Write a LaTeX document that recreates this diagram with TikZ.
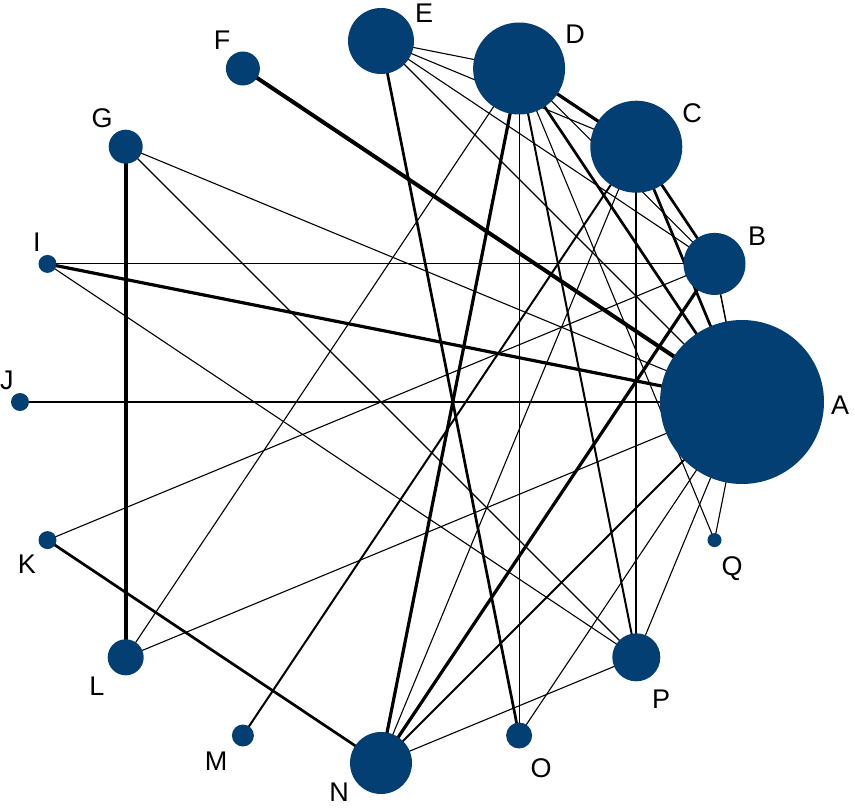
\documentclass[tikz,border=0pt]{standalone}
\usepackage{fontspec}
\setmainfont{Liberation Sans}
\usetikzlibrary{backgrounds}
\definecolor{nodeblue}{RGB}{3,63,114}
\begin{document}
\begin{tikzpicture}[x=1pt,y=-1pt,
  vert/.style={circle,fill=nodeblue,draw=none,inner sep=0pt,minimum size=#1},
  lab/.style={font=\fontsize{27}{27}\selectfont,inner sep=0pt,text=black},
  ethin/.style={line width=1.1pt},
  emid/.style={line width=2pt},
  ethick/.style={line width=2.7pt},
  ebold/.style={line width=3.2pt},
  eheavy/.style={line width=4pt}]
\useasboundingbox (0,0) rectangle (854,808);
% nodes
\node[vert=164pt] (A) at (742,402) {};
\node[vert=62pt]  (B) at (714.5,263.9) {};
\node[vert=92pt]  (C) at (636.3,146.7) {};
\node[vert=92pt]  (D) at (519.1,68.5) {};
\node[vert=66pt]  (E) at (381,41) {};
\node[vert=34pt]  (F) at (242.9,68.5) {};
\node[vert=34pt]  (G) at (125.7,146.7) {};
\node[vert=18pt]  (I) at (47.5,263.9) {};
\node[vert=18pt]  (J) at (20,402) {};
\node[vert=18pt]  (K) at (47.5,540.1) {};
\node[vert=36pt]  (L) at (125.7,657.3) {};
\node[vert=22pt]  (M) at (242.9,735.5) {};
\node[vert=62pt]  (N) at (381,763) {};
\node[vert=26pt]  (O) at (519.1,735.5) {};
\node[vert=48pt]  (P) at (636.3,657.3) {};
\node[vert=14pt]  (Q) at (714.5,540.1) {};
% labels
\node[lab] (lA) at (840,405) {A};
\node[lab] (lB) at (757,236) {B};
\node[lab] (lC) at (692,113) {C};
\node[lab] (lD) at (575,34) {D};
\node[lab] (lE) at (424,13) {E};
\node[lab] (lF) at (222,40) {F};
\node[lab] (lG) at (102,118) {G};
\node[lab] (lI) at (37,242) {I};
\node[lab] (lJ) at (7,380) {J};
\node[lab] (lK) at (27,564) {K};
\node[lab] (lL) at (97,686) {L};
\node[lab] (lM) at (216,761) {M};
\node[lab] (lN) at (339,792) {N};
\node[lab] (lO) at (541,768) {O};
\node[lab] (lP) at (661,699) {P};
\node[lab] (lQ) at (732,569) {Q};
% edges
\begin{pgfonlayer}{background}
\draw[ethin] (E.center) -- (D.center);
\draw[ethin] (E.center) -- (C.center);
\draw[ethin] (E.center) -- (B.center);
\draw[ethin] (E.center) -- (A.center);
\draw[ethick] (E.center) -- (O.center);
\draw[ebold] (D.center) -- (C.center);
\draw[ethin] (D.center) -- (B.center);
\draw[ethick] (D.center) -- (A.center);
\draw[ethin] (D.center) -- (Q.center);
\draw[emid] (D.center) -- (P.center);
\draw[ethin] (D.center) -- (O.center);
\draw[ebold] (D.center) -- (N.center);
\draw[ethin] (D.center) -- (L.center);
\draw[ethick] (C.center) -- (B.center);
\draw[ethick] (C.center) -- (A.center);
\draw[emid] (C.center) -- (P.center);
\draw[ethin] (C.center) -- (N.center);
\draw[emid] (C.center) -- (M.center);
\draw[line width=1.5pt] (B.center) -- (A.center);
\draw[ethin] (B.center) -- (I.center);
\draw[ethin] (B.center) -- (K.center);
\draw[ebold] (B.center) -- (N.center);
\draw[eheavy] (F.center) -- (A.center);
\draw[ethin] (G.center) -- (A.center);
\draw[ethin] (G.center) -- (P.center);
\draw[eheavy] (G.center) -- (L.center);
\draw[ebold] (I.center) -- (A.center);
\draw[ethin] (I.center) -- (P.center);
\draw[ethin] (J.center) -- (A.center);
\draw[ethick] (K.center) -- (N.center);
\draw[ethin] (L.center) -- (A.center);
\draw[emid] (N.center) -- (A.center);
\draw[ethin] (N.center) -- (P.center);
\draw[ethin] (O.center) -- (A.center);
\draw[ethin] (P.center) -- (A.center);
\draw[ethin] (Q.center) -- (A.center);
\end{pgfonlayer}
\end{tikzpicture}
\end{document}
